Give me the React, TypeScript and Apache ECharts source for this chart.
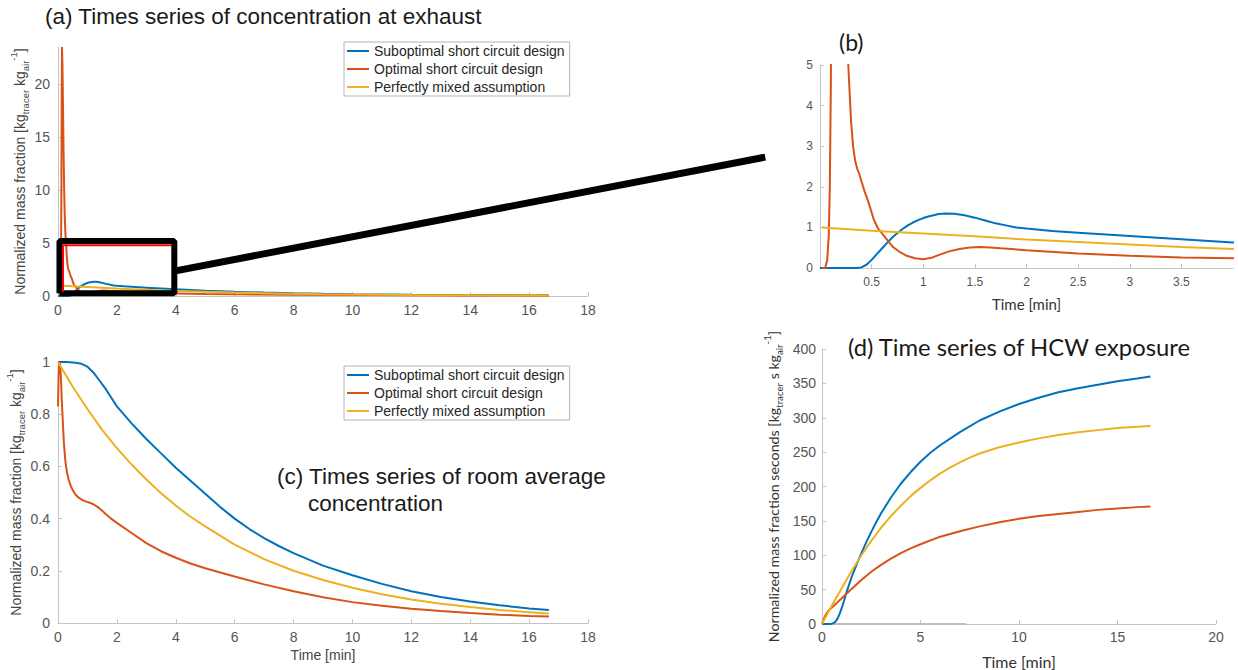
import React, { useEffect, useRef } from "react";
import * as echarts from "echarts";

const NAMES = ["Suboptimal short circuit design", "Optimal short circuit design", "Perfectly mixed assumption"];
const COLORS = ["#0072BD", "#D95319", "#EDB120"];

// ---- Exhaust concentration (panels a and b) ----
const exhBlueT = [0, 0.35, 0.4, 0.45, 0.5, 0.55, 0.6, 0.65, 0.7, 0.75, 0.8, 0.85, 0.9, 0.95, 1.0, 1.05, 1.1, 1.15, 1.22, 1.3, 1.4, 1.5, 1.6, 1.7, 1.8, 1.9, 2.0, 2.25, 2.5, 3, 3.5, 4, 5, 6, 7, 8, 9, 10, 12, 14, 16, 16.67];
const exhBlueV = [0, 0, 0.015, 0.08, 0.2, 0.34, 0.48, 0.62, 0.75, 0.86, 0.96, 1.05, 1.12, 1.18, 1.23, 1.27, 1.3, 1.33, 1.345, 1.335, 1.3, 1.24, 1.17, 1.1, 1.05, 1.0, 0.97, 0.91, 0.87, 0.79, 0.71, 0.63, 0.5, 0.4, 0.32, 0.26, 0.21, 0.17, 0.115, 0.08, 0.055, 0.05];

const exhOrangeT = [0.02, 0.05, 0.07, 0.085, 0.095, 0.105, 0.115, 0.125, 0.135, 0.15, 0.17, 0.19, 0.21, 0.23, 0.25, 0.274, 0.3, 0.32, 0.34, 0.36, 0.38, 0.4, 0.43, 0.46, 0.49, 0.52, 0.56, 0.62, 0.66, 0.71, 0.77, 0.84, 0.92, 1.0, 1.08, 1.16, 1.25, 1.35, 1.45, 1.55, 1.65, 1.75, 2, 2.5, 3, 3.5, 4, 5, 6, 8, 10, 12, 14, 16, 16.67];
const exhOrangeV = [0, 0, 0.2, 0.8, 2, 4.5, 10, 18, 23.5, 22, 18, 13.5, 10, 7.5, 6, 5, 3.65, 3.0, 2.65, 2.45, 2.32, 2.15, 1.9, 1.69, 1.45, 1.2, 0.98, 0.79, 0.66, 0.51, 0.4, 0.3, 0.24, 0.215, 0.25, 0.33, 0.41, 0.47, 0.505, 0.515, 0.505, 0.485, 0.44, 0.36, 0.3, 0.26, 0.24, 0.19, 0.16, 0.12, 0.09, 0.07, 0.055, 0.045, 0.04];

const exhYellowT = [0.02, 0.5, 1, 1.5, 2, 2.5, 3, 3.5, 4, 5, 6, 7, 8, 9, 10, 11, 12, 13, 14, 15, 16, 16.67];
const exhYellowV = [1.0, 0.92, 0.85, 0.78, 0.7, 0.64, 0.58, 0.52, 0.47, 0.39, 0.32, 0.26, 0.21, 0.175, 0.143, 0.117, 0.096, 0.079, 0.065, 0.053, 0.044, 0.039];

// zoom rectangle drawn on panel (a), in data units
const zoomBox = [[0.05, 0.25], [0.05, 5.2], [3.95, 5.2], [3.95, 0.25], [0.05, 0.25]];
const zoomBoxInner = [[0.17, 0.4], [0.17, 4.8], [3.85, 4.8]];
const connectorFromA = [3.95, 2.35];
const connectorToB = [-0.53, 2.73];

// ---- Room average concentration (panel c) ----
const roomBlueT = [0, 0.3, 0.6, 0.8, 1.0, 1.2, 1.4, 1.6, 1.8, 2, 2.5, 3, 3.5, 4, 4.5, 5, 5.5, 6, 6.5, 7, 7.5, 8, 9, 10, 11, 12, 13, 14, 15, 16, 16.67];
const roomBlueV = [1.0, 1.0, 0.997, 0.993, 0.982, 0.96, 0.93, 0.9, 0.865, 0.83, 0.765, 0.705, 0.65, 0.595, 0.545, 0.495, 0.445, 0.4, 0.36, 0.325, 0.295, 0.268, 0.22, 0.183, 0.15, 0.122, 0.1, 0.082, 0.068, 0.056, 0.05];

const roomOrangeT = [0, 0.02, 0.04, 0.07, 0.09, 0.11, 0.13, 0.16, 0.2, 0.25, 0.3, 0.36, 0.45, 0.57, 0.7, 0.85, 0.97, 1.1, 1.2, 1.3, 1.4, 1.5, 1.6, 1.8, 2.05, 2.5, 3, 3.5, 4, 4.5, 5, 6, 7, 8, 9, 10, 11, 12, 13, 14, 15, 16, 16.67];
const roomOrangeV = [0.83, 0.95, 1.0, 0.99, 0.96, 0.91, 0.85, 0.78, 0.69, 0.62, 0.58, 0.55, 0.52, 0.495, 0.48, 0.47, 0.465, 0.46, 0.455, 0.448, 0.44, 0.43, 0.42, 0.4, 0.38, 0.345, 0.306, 0.275, 0.25, 0.228, 0.21, 0.178, 0.148, 0.122, 0.099, 0.08, 0.066, 0.055, 0.046, 0.038, 0.032, 0.027, 0.025];

const roomYellowT = [0, 0.5, 1, 1.5, 2, 2.5, 3, 3.5, 4, 4.5, 5, 6, 7, 8, 9, 10, 11, 12, 13, 14, 15, 16, 16.67];
const roomYellowV = [1.0, 0.905, 0.82, 0.74, 0.67, 0.607, 0.55, 0.497, 0.45, 0.407, 0.37, 0.3, 0.245, 0.2, 0.165, 0.135, 0.11, 0.09, 0.074, 0.061, 0.05, 0.041, 0.036];

// ---- HCW exposure (panel d) ----
const expBlueT = [0, 0.3, 0.5, 0.6, 0.7, 0.8, 0.9, 1.0, 1.1, 1.2, 1.35, 1.5, 1.75, 2, 2.25, 2.5, 2.75, 3, 3.5, 4, 4.5, 5, 5.5, 6, 7, 8, 9, 10, 11, 12, 13, 14, 15, 16, 16.67];
const expBlueV = [0, 0, 0.5, 1.5, 4, 8.5, 15, 23, 32, 42, 55, 68, 86, 103, 119, 134, 148, 161, 184, 204, 221, 236, 249, 260, 279, 296, 309, 320, 329, 337, 343, 348, 353, 357, 360];

const expOrangeT = [0, 0.1, 0.2, 0.35, 0.5, 0.8, 1.2, 1.5, 2, 2.5, 3, 3.5, 4, 4.5, 5, 6, 7, 8, 9, 10, 11, 12, 13, 14, 15, 16, 16.67];
const expOrangeV = [0, 8, 14, 20, 24, 32, 43, 51, 64, 76, 86, 95, 103, 110, 116, 127, 135, 142, 148, 153, 157, 160, 163, 166, 168, 170, 171];

const expYellowT = [0, 0.5, 1, 1.5, 2, 2.5, 3, 3.5, 4, 4.5, 5, 5.5, 6, 6.5, 7, 7.5, 8, 9, 10, 11, 12, 13, 14, 15, 16, 16.67];
const expYellowV = [0, 27, 52, 77, 100, 121, 140, 157, 172, 186, 198, 209, 219, 227.5, 235, 242, 248, 257, 264, 270, 275, 279, 282, 285, 287, 288];

const expStrayT = [0, 7.3];
const expStrayV = [0, 0];

// ---- tick settings ----
const xTicksA = { min: 0, max: 18, interval: 2 };
const yTicksA = { min: 0, max: 23.5, interval: 5 };
const xTicksB = { min: 0, max: 4, interval: 0.5 };
const yTicksB = { min: 0, max: 5, interval: 1 };
const xTicksC = { min: 0, max: 18, interval: 2 };
const yTicksC = { min: 0, max: 1, interval: 0.2 };
const xTicksD = { min: 0, max: 20, interval: 5 };
const yTicksD = { min: 0, max: 400, interval: 50 };

const MATLAB = "'Liberation Sans', Arial, sans-serif";
const OFFICE = "Lato, 'Open Sans', sans-serif";

function pairs(t: number[], v: number[]) {
  return t.map((x, i) => [x, v[i]]);
}

function axisBase(gridIndex: number, ticks: any, fontSize: number, family: string, margin: number) {
  return {
    type: "value",
    gridIndex,
    ...ticks,
    axisLine: { show: true, lineStyle: { color: "#c4c4c4", width: 1 } },
    axisTick: { show: true, inside: true, length: 4, lineStyle: { color: "#c4c4c4" } },
    splitLine: { show: false },
    axisLabel: { fontSize, fontFamily: family, color: "#555555", margin },
  };
}

function lineSeries(name: string, color: string, data: number[][], ax: number, width = 2) {
  return {
    type: "line",
    name,
    xAxisIndex: ax,
    yAxisIndex: ax,
    data,
    showSymbol: false,
    symbol: "none",
    lineStyle: { color, width },
    itemStyle: { color },
    clip: true,
    emphasis: { disabled: true },
  };
}

function richName(family: string, size: number, color: string) {
  return {
    t: { fontSize: size, fontFamily: family, color, lineHeight: 22 },
    s: { fontSize: size * 0.68, fontFamily: family, color, verticalAlign: "bottom", lineHeight: 12 },
    p: { fontSize: size * 0.68, fontFamily: family, color, verticalAlign: "top", lineHeight: 12 },
  };
}

const yNameConc = "{t|Normalized mass fraction [kg}{s|tracer}{t| kg}{s|air}{p|-1}{t|]}";
const yNameExp = "{t|Normalized mass fraction seconds [kg}{s|tracer}{t| s kg}{s|air}{p|-1}{t|]}";

function legendAt(top: number) {
  return {
    orient: "vertical",
    left: 344,
    top,
    data: NAMES,
    icon: "rect",
    itemWidth: 22,
    itemHeight: 2,
    itemGap: 4,
    selectedMode: false,
    borderColor: "#b4b4b4",
    borderWidth: 1,
    borderRadius: 0,
    padding: [2, 5, 2, 3],
    backgroundColor: "#ffffff",
    textStyle: { fontSize: 14, fontFamily: MATLAB, color: "#262626" },
  };
}

export default function App() {
  const ref = useRef<HTMLDivElement>(null);

  useEffect(() => {
    if (!ref.current) return;
    const chart = echarts.init(ref.current, null, { renderer: "svg" });

    const option: any = {
      animation: false,
      backgroundColor: "#ffffff",
      grid: [
        { left: 58, top: 47, width: 530, height: 249 },
        { left: 820, top: 65, width: 413, height: 203 },
        { left: 58, top: 362, width: 530, height: 261 },
        { left: 822, top: 349, width: 394, height: 275 },
      ],
      xAxis: [
        axisBase(0, xTicksA, 14, MATLAB, 7),
        {
          ...axisBase(1, xTicksB, 12, MATLAB, 8),
          axisLabel: { fontSize: 12, fontFamily: MATLAB, color: "#555555", margin: 8, showMinLabel: false, showMaxLabel: false },
          name: "Time [min]",
          nameLocation: "middle",
          nameGap: 28,
          nameTextStyle: { fontSize: 15, fontFamily: OFFICE, color: "#333333" },
        },
        {
          ...axisBase(2, xTicksC, 14, MATLAB, 7),
          name: "Time [min]",
          nameLocation: "middle",
          nameGap: 25,
          nameTextStyle: { fontSize: 14, fontFamily: MATLAB, color: "#444444" },
        },
        {
          ...axisBase(3, xTicksD, 14, MATLAB, 6),
          name: "Time [min]",
          nameLocation: "middle",
          nameGap: 29,
          nameTextStyle: { fontSize: 16, fontFamily: OFFICE, color: "#333333" },
        },
      ],
      yAxis: [
        {
          ...axisBase(0, yTicksA, 14, MATLAB, 8),
          axisLabel: { fontSize: 14, fontFamily: MATLAB, color: "#555555", margin: 8, showMaxLabel: false },
          name: yNameConc,
          nameLocation: "middle",
          nameGap: 23,
          nameTextStyle: { rich: richName(MATLAB, 14, "#444444") },
        },
        axisBase(1, yTicksB, 12, MATLAB, 7),
        {
          ...axisBase(2, yTicksC, 14, MATLAB, 8),
          name: yNameConc,
          nameLocation: "middle",
          nameGap: 24,
          nameTextStyle: { rich: richName(MATLAB, 14, "#444444") },
        },
        {
          ...axisBase(3, yTicksD, 14, MATLAB, 6),
          name: yNameExp,
          nameLocation: "middle",
          nameGap: 38,
          nameTextStyle: { rich: richName(OFFICE, 14.2, "#333333") },
        },
      ],
      legend: [legendAt(42), legendAt(366)],
      series: [
        lineSeries(NAMES[0], COLORS[0], pairs(exhBlueT, exhBlueV), 0),
        lineSeries(NAMES[1], COLORS[1], pairs(exhOrangeT, exhOrangeV), 0),
        lineSeries(NAMES[2], COLORS[2], pairs(exhYellowT, exhYellowV), 0),
        {
          ...lineSeries("zoom box", "#000000", zoomBox, 0, 6),
          clip: false,
          z: 5,
        },
        {
          ...lineSeries("zoom box inner", "#ff0000", zoomBoxInner, 0, 2),
          clip: false,
          z: 6,
        },
        lineSeries(NAMES[0], COLORS[0], pairs(exhBlueT, exhBlueV), 1),
        lineSeries(NAMES[1], COLORS[1], pairs(exhOrangeT, exhOrangeV), 1),
        lineSeries(NAMES[2], COLORS[2], pairs(exhYellowT, exhYellowV), 1),
        lineSeries(NAMES[0], COLORS[0], pairs(roomBlueT, roomBlueV), 2),
        lineSeries(NAMES[1], COLORS[1], pairs(roomOrangeT, roomOrangeV), 2),
        lineSeries(NAMES[2], COLORS[2], pairs(roomYellowT, roomYellowV), 2),
        lineSeries("stray", "#bdbdbd", pairs(expStrayT, expStrayV), 3, 2),
        lineSeries(NAMES[0], COLORS[0], pairs(expBlueT, expBlueV), 3),
        lineSeries(NAMES[1], COLORS[1], pairs(expOrangeT, expOrangeV), 3),
        lineSeries(NAMES[2], COLORS[2], pairs(expYellowT, expYellowV), 3),
      ],
    };

    chart.setOption(option);

    const from = chart.convertToPixel({ gridIndex: 0 } as any, connectorFromA) as number[];
    const to = chart.convertToPixel({ gridIndex: 1 } as any, connectorToB) as number[];

    chart.setOption({
      graphic: [
        {
          type: "line",
          shape: { x1: from[0], y1: from[1], x2: to[0], y2: to[1] },
          style: { stroke: "#000000", lineWidth: 7 },
          z: 10,
        },
        {
          type: "text",
          left: 45,
          top: 5,
          style: { text: "(a) Times series of concentration at exhaust", fontSize: 22.5, fontFamily: MATLAB, fill: "#1a1a1a" },
        },
        {
          type: "text",
          left: 839,
          top: 30,
          style: { text: "(b)", fontSize: 23, fontFamily: OFFICE, fill: "#1a1a1a" },
        },
        {
          type: "text",
          left: 277,
          top: 465,
          style: { text: "(c) Times series of room average", fontSize: 22.5, fontFamily: MATLAB, fill: "#1a1a1a" },
        },
        {
          type: "text",
          left: 308,
          top: 492,
          style: { text: "concentration", fontSize: 22.5, fontFamily: MATLAB, fill: "#1a1a1a" },
        },
        {
          type: "text",
          left: 848,
          top: 335,
          style: { text: "(d) Time series of HCW exposure", fontSize: 23.8, fontFamily: OFFICE, fill: "#1a1a1a" },
        },
      ],
    });

    return () => chart.dispose();
  }, []);

  return <div ref={ref} style={{ position: "fixed", left: 0, top: 0, width: 1238, height: 670, background: "#fff" }} />;
}
